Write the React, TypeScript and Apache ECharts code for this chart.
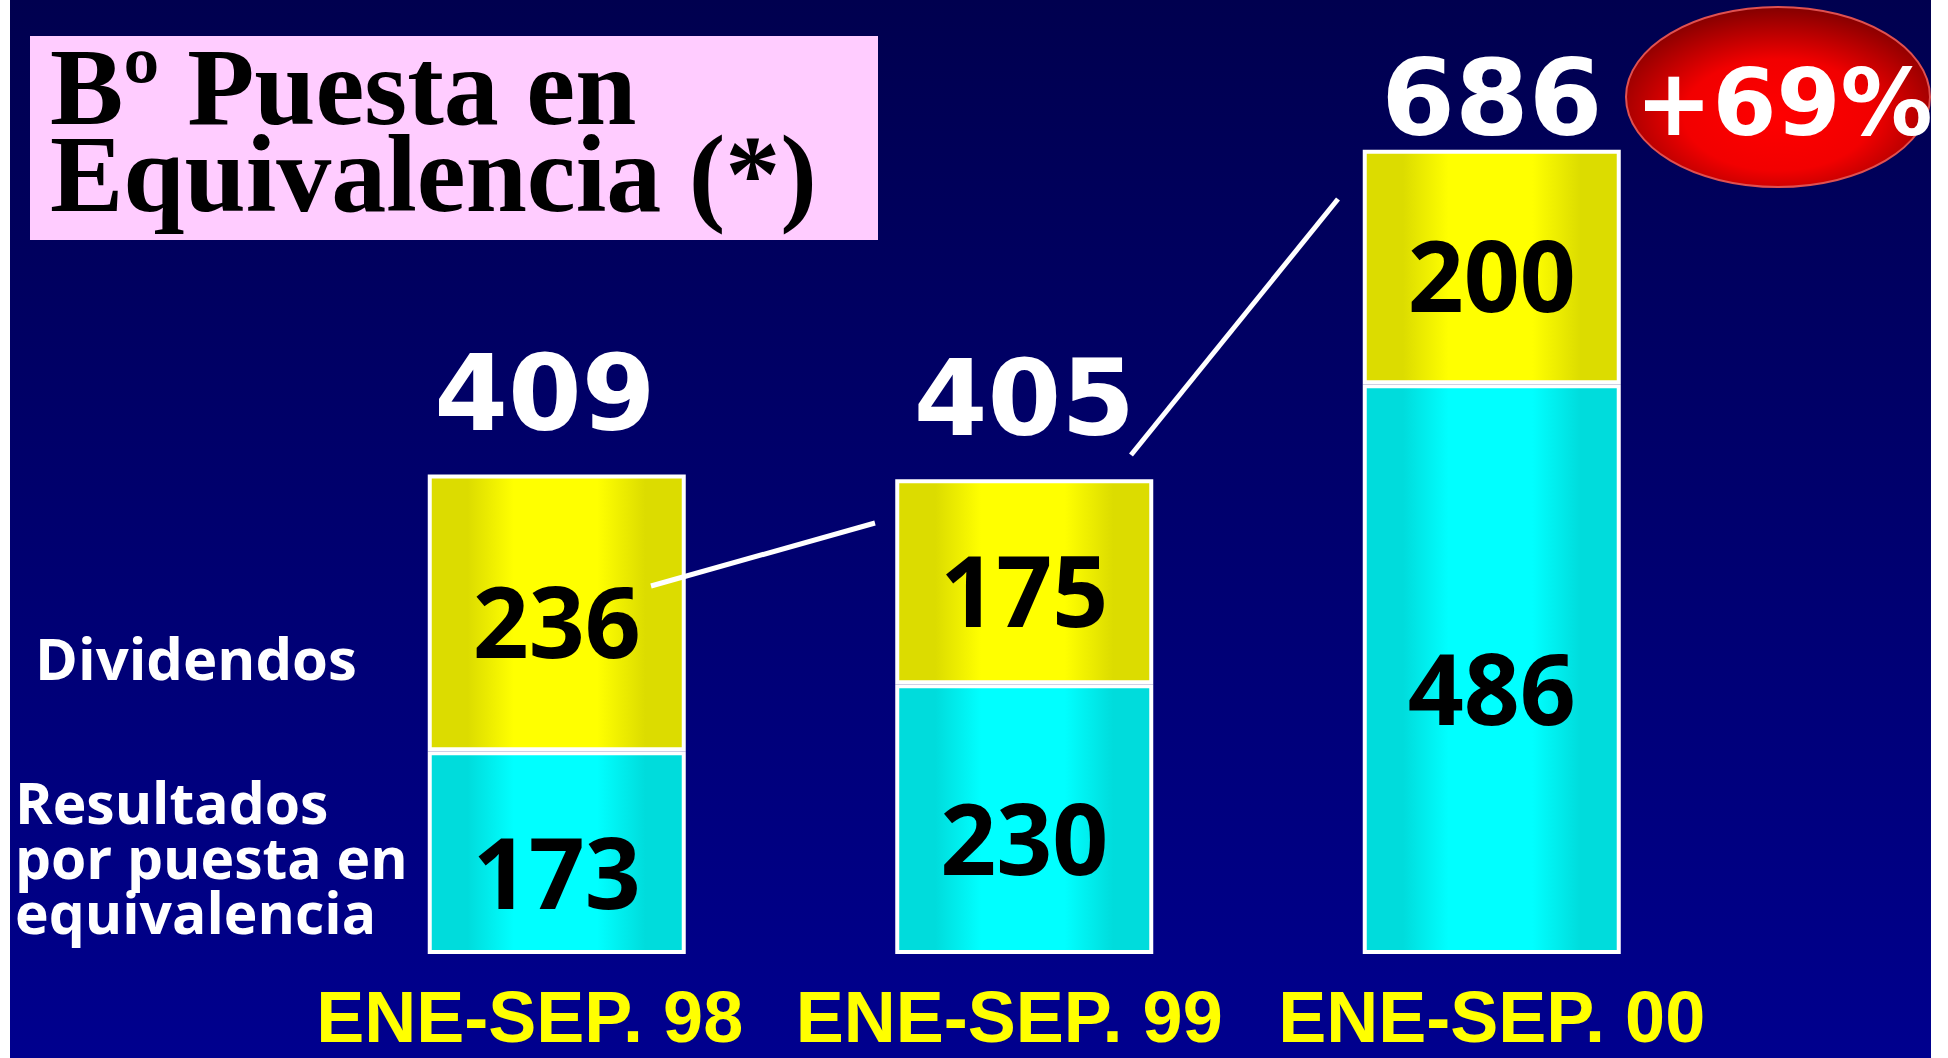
import React, { useEffect, useRef } from 'react';
import * as echarts from 'echarts';

// ---- data ----
const categories = ['ENE-SEP. 98', 'ENE-SEP. 99', 'ENE-SEP. 00'];
const resultados = [173, 230, 486];
const dividendos = [236, 175, 200];
const totales = [409, 405, 686];
const crecimiento = '+69%';
const titleLines = ['Bº Puesta en', 'Equivalencia (*)'];
const seriesNames = ['Resultados por puesta en equivalencia', 'Dividendos'];
const resultadosLegend = ['Resultados', 'por puesta en', 'equivalencia'];

export default function App() {
  const ref = useRef<HTMLDivElement>(null);

  useEffect(() => {
    const chart = echarts.init(ref.current as HTMLDivElement, null, { renderer: 'svg' });

    const hGrad = (edge: string, mid: string) =>
      new echarts.graphic.LinearGradient(0, 0, 1, 0, [
        { offset: 0, color: edge },
        { offset: 0.15, color: edge },
        { offset: 0.33, color: mid },
        { offset: 0.66, color: mid },
        { offset: 0.85, color: edge },
        { offset: 1, color: edge },
      ]);

    const insideLabel = (dy: number) => ({
      show: true,
      position: 'inside',
      offset: [0, dy],
      color: '#000',
      fontFamily: '"Open Sans", sans-serif',
      fontWeight: 'bold',
      fontSize: 98,
    });

    const catData = categories.map((c, i) =>
      i === 0
        ? { value: c, textStyle: { padding: [0, 54, 0, 0] } }
        : i === 1
        ? { value: c, textStyle: { padding: [0, 30, 0, 0] } }
        : { value: c }
    );

    const titleStyle = {
      fill: '#000',
      fontFamily: '"Liberation Serif", "Times New Roman", serif',
      fontWeight: 'bold',
      fontSize: 110,
      lineHeight: 84,
      align: 'left',
      verticalAlign: 'middle',
      shadowColor: '#ffffff',
      shadowOffsetX: 3,
      shadowOffsetY: 3,
      shadowBlur: 0,
    };

    const option = {
      animation: false,
      grid: { left: 323, right: 222.5, top: 16, bottom: 104 },
      xAxis: {
        type: 'category',
        data: catData,
        axisLine: { show: false },
        axisTick: { show: false },
        splitLine: { show: false },
        axisLabel: {
          color: '#ffff00',
          fontFamily: '"Liberation Sans", Arial, sans-serif',
          fontWeight: 'bold',
          fontSize: 72,
          lineHeight: 60,
          margin: 33,
          interval: 0,
        },
      },
      yAxis: { type: 'value', min: 0, max: 800, show: false },
      graphic: [
        { type: 'rect', z: -100, silent: true, shape: { x: 0, y: 0, width: 1948, height: 1058 }, style: { fill: '#ffffff' } },
        {
          type: 'rect', z: -99, silent: true,
          shape: { x: 10, y: 0, width: 1921, height: 1058 },
          style: {
            fill: new echarts.graphic.LinearGradient(0, 0, 0, 1, [
              { offset: 0, color: '#00004f' },
              { offset: 1, color: '#00008e' },
            ]),
          },
        },
        { type: 'rect', z: -98, silent: true, shape: { x: 30, y: 36, width: 848, height: 204 }, style: { fill: '#ffccff' } },
        { type: 'text', z: 10, x: 50, y: 87, style: { ...titleStyle, text: titleLines[0] } },
        { type: 'text', z: 10, x: 50, y: 174, style: { ...titleStyle, text: titleLines[1] } },
        {
          type: 'text', z: 10, x: 35, y: 657,
          style: {
            text: seriesNames[1], fill: '#fff', fontFamily: '"Open Sans", sans-serif',
            fontWeight: 'bold', fontSize: 58, lineHeight: 54, align: 'left', verticalAlign: 'middle',
          },
        },
        ...resultadosLegend.map((t, i) => ({
          type: 'text', z: 10, x: 15, y: 802 + i * 55,
          style: {
            text: t, fill: '#fff', fontFamily: '"Open Sans", sans-serif',
            fontWeight: 'bold', fontSize: 57, lineHeight: 54, align: 'left', verticalAlign: 'middle',
          },
        })),
        { type: 'line', z: 100, silent: true, shape: { x1: 651, y1: 586, x2: 875, y2: 523 }, style: { stroke: '#ffffff', lineWidth: 5 } },
        { type: 'line', z: 100, silent: true, shape: { x1: 1131, y1: 455, x2: 1338, y2: 199 }, style: { stroke: '#ffffff', lineWidth: 5 } },
        {
          type: 'ellipse', z: 50, silent: true,
          shape: { cx: 1778, cy: 97, rx: 152, ry: 90 },
          style: {
            fill: new echarts.graphic.RadialGradient(0.5, 0.6, 0.62, [
              { offset: 0, color: '#ff0000' },
              { offset: 0.5, color: '#f20000' },
              { offset: 1, color: '#7c0000' },
            ]),
            stroke: '#e05050', lineWidth: 2,
          },
        },
        {
          type: 'text', z: 60, x: 1784, y: 103,
          style: {
            text: crecimiento, fill: '#fff', fontFamily: '"DejaVu Sans", sans-serif',
            fontWeight: 'bold', fontSize: 92, align: 'center', verticalAlign: 'middle',
            shadowColor: '#000000', shadowOffsetX: 4, shadowOffsetY: 4, shadowBlur: 0,
          },
        },
      ],
      series: [
        {
          name: seriesNames[0],
          type: 'bar',
          stack: 'total',
          barWidth: 258,
          data: resultados,
          itemStyle: { color: hGrad('#00dcdc', '#00ffff'), borderColor: '#ffffff', borderWidth: 4 },
          label: insideLabel(18),
        },
        {
          name: seriesNames[1],
          type: 'bar',
          stack: 'total',
          barWidth: 258,
          data: dividendos,
          itemStyle: { color: hGrad('#dcdc00', '#ffff00'), borderColor: '#ffffff', borderWidth: 4 },
          label: insideLabel(7),
        },
        {
          name: 'Total',
          type: 'scatter',
          symbolSize: 0,
          silent: true,
          itemStyle: { opacity: 1, color: '#ffffff' },
          data: totales.map((v, i) =>
            i === 0
              ? { value: v, label: { offset: [-12, 0] } }
              : i === 2
              ? { value: v, label: { distance: -2 } }
              : v
          ),
          label: {
            show: true,
            position: 'top',
            distance: 28,
            color: '#ffffff',
            opacity: 1,
            fontFamily: '"DejaVu Sans", sans-serif',
            fontWeight: 'bold',
            fontSize: 106,
          },
        },
      ],
    };

    chart.setOption(option as any);
    return () => chart.dispose();
  }, []);

  return <div ref={ref} style={{ position: 'fixed', left: 0, top: 0, width: 1948, height: 1058 }} />;
}
